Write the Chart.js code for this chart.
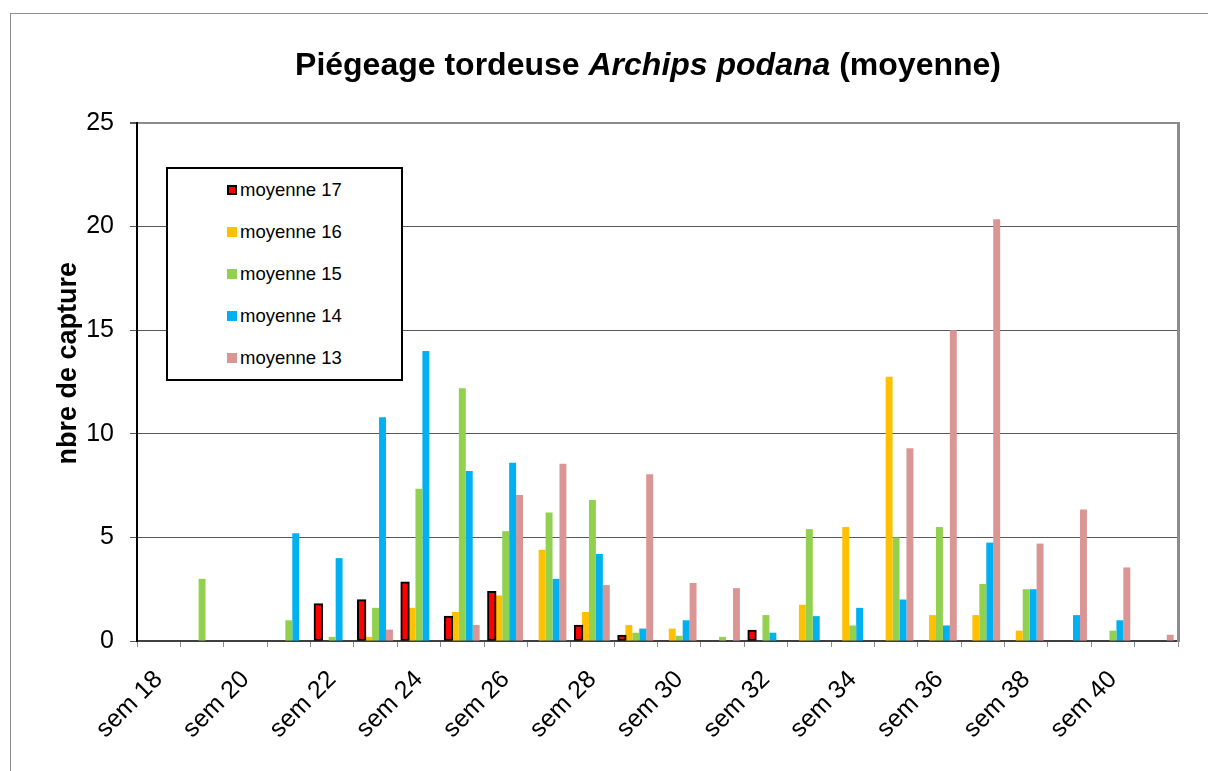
<!DOCTYPE html>
<html>
<head>
<meta charset="utf-8">
<script src="https://cdn.jsdelivr.net/npm/chart.js@4.4.1/dist/chart.umd.min.js"></script>
<style>
  html, body { margin: 0; padding: 0; background: #fff; }
  #wrap { position: relative; width: 1208px; height: 771px; overflow: hidden; font-family: 'Liberation Sans', Arial, sans-serif; }
  #frame { position: absolute; left: 10px; top: 13px; width: 1300px; height: 900px; border-top: 1px solid #8c8c8c; border-left: 1px solid #8c8c8c; }
  canvas { position: absolute; left: 0; top: 0; }
  #title { position: absolute; left: 148px; top: 48px; width: 1000px; text-align: center; font-size: 32px; line-height: 32px; font-weight: bold; color: #000; white-space: nowrap; }
  #legend { position: absolute; left: 166px; top: 167px; width: 237px; height: 214px; box-sizing: border-box; border: 2px solid #000; background: #fff; }
  .row { height: 42px; display: flex; align-items: center; padding-left: 59px; font-size: 18.5px; color: #000; }
  .mk { width: 10px; height: 10px; box-sizing: border-box; margin-right: 3px; }
</style>
</head>
<body>
<div id="wrap">
  <div id="frame"></div>
  <canvas id="c" width="1208" height="771"></canvas>
  <div id="title">Piégeage tordeuse <i>Archips podana</i> (moyenne)</div>
  <div id="legend"></div>
</div>
<script>
const categories = ['sem 18','sem 19','sem 20','sem 21','sem 22','sem 23','sem 24','sem 25','sem 26','sem 27','sem 28','sem 29','sem 30','sem 31','sem 32','sem 33','sem 34','sem 35','sem 36','sem 37','sem 38','sem 39','sem 40','sem 41'];
const seriesNames = ['moyenne 17','moyenne 16','moyenne 15','moyenne 14','moyenne 13'];
const moyenne17 = [0,0,0,0,1.8,2.0,2.85,1.2,2.4,0,0.77,0.29,0,0,0.53,0,0,0,0,0,0,0,0,0];
const moyenne16 = [0,0,0,0,0,0.2,1.6,1.4,2.2,4.4,1.4,0.77,0.6,0,0,1.75,5.5,12.75,1.25,1.25,0.5,0,0,0];
const moyenne15 = [0,3.0,0,1.0,0.2,1.6,7.35,12.2,5.3,6.2,6.8,0.4,0.25,0.2,1.25,5.4,0.75,5.0,5.5,2.75,2.5,0,0.5,0];
const moyenne14 = [0,0,0,5.2,4.0,10.8,14.0,8.2,8.6,3.0,4.2,0.6,1.0,0,0.4,1.2,1.6,2.0,0.75,4.75,2.5,1.25,1.0,0];
const moyenne13 = [0,0,0,0,0,0.55,0,0.77,7.05,8.55,2.7,8.05,2.8,2.55,0,0,0,9.3,15.0,20.35,4.7,6.35,3.55,0.3];
const yTicks = [0,5,10,15,20,25];

const colors = ['#FF0000','#FFC000','#92D050','#00B0F0','#D99694'];
const values = [moyenne17, moyenne16, moyenne15, moyenne14, moyenne13];

Chart.defaults.font.family = "'Liberation Sans', Arial, sans-serif";
Chart.defaults.color = '#000';

const datasets = seriesNames.map((name, i) => ({
  label: name,
  data: values[i],
  backgroundColor: ctx => (ctx.raw ? colors[i] : 'rgba(0,0,0,0)'),
  legendColor: colors[i],
  borderColor: i === 0 ? '#000' : colors[i],
  borderWidth: i === 0 ? (ctx => (ctx.raw ? 2 : 0)) : 0,
  borderSkipped: false,
  categoryPercentage: 0.8,
  barPercentage: i === 0 ? 1.25 : 1.0
}));

const frameRight = {
  id: 'frameRight',
  afterDraw(chart) {
    const a = chart.chartArea, c = chart.ctx;
    c.save();
    c.strokeStyle = '#8c8c8c';
    c.lineWidth = 3;
    c.beginPath();
    c.moveTo(a.right + 0.5, a.top - 1);
    c.lineTo(a.right + 0.5, a.bottom + 1);
    c.stroke();
    c.restore();
  }
};

const chart = new Chart(document.getElementById('c'), {
  type: 'bar',
  data: { labels: categories, datasets },
  options: {
    responsive: false,
    animation: false,
    devicePixelRatio: 1,
    layout: { padding: { left: 48, right: 30, top: 123, bottom: 0 } },
    plugins: { legend: { display: false }, title: { display: false }, tooltip: { enabled: false } },
    scales: {
      x: {
        offset: true,
        grid: { display: true, offset: true, drawOnChartArea: false, drawTicks: true, tickLength: 6, tickColor: '#8c8c8c' },
        border: { color: '#404040', width: 2 },
        ticks: {
          autoSkip: false, minRotation: 45, maxRotation: 45, padding: 18,
          font: { size: 25 }, color: '#000',
          callback: function(v, i) { return i % 2 === 0 ? this.getLabelForValue(v) : ''; }
        },
        afterFit: s => { s.height = 130; }
      },
      y: {
        min: 0, max: 25,
        afterBuildTicks: s => { s.ticks = yTicks.map(v => ({ value: v })); },
        grid: {
          color: ctx => (ctx.tick && ctx.tick.value === 25 ? '#8c8c8c' : '#595959'),
          lineWidth: ctx => (ctx.tick && ctx.tick.value === 25 ? 2 : 1),
          tickColor: '#595959', tickLength: 7, drawTicks: true
        },
        border: { color: '#000', width: 2 },
        ticks: { font: { size: 25 }, color: '#000', padding: 16 },
        title: { display: true, text: '     nbre de capture', font: { size: 27, weight: 'bold' }, color: '#000', padding: { top: 4, bottom: 0 } },
        afterFit: s => { s.width = 89; }
      }
    }
  },
  plugins: [frameRight]
});

const leg = document.getElementById('legend');
chart.data.datasets.forEach(ds => {
  const row = document.createElement('div');
  row.className = 'row';
  const mk = document.createElement('span');
  mk.className = 'mk';
  mk.style.background = ds.legendColor;
  if (ds.borderColor === '#000') mk.style.border = '2px solid #000';
  const t = document.createElement('span');
  t.textContent = ds.label;
  row.appendChild(mk); row.appendChild(t);
  leg.appendChild(row);
});
</script>
</body>
</html>
